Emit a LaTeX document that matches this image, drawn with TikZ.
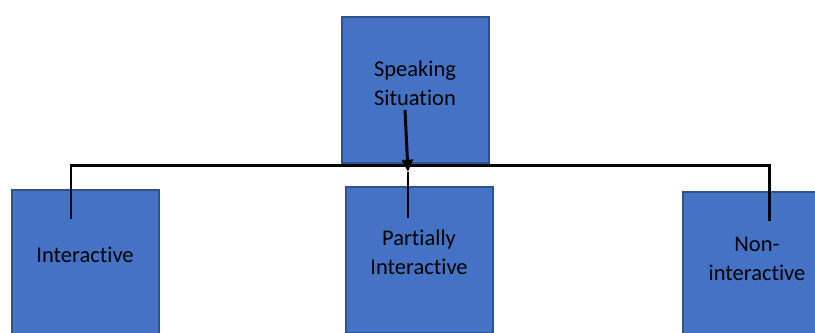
\documentclass[tikz,border=0pt]{standalone}
\usepackage{fontspec}
\setmainfont{Carlito}[RawFeature={-liga;-clig}]
\usetikzlibrary{arrows.meta}
\definecolor{boxblue}{HTML}{4472C4}
\definecolor{boxedge}{HTML}{2F528F}
\tikzset{link/.style={line width=1.7pt}}

\begin{document}
\begin{tikzpicture}[x=0.02cm,y=-0.02cm,
  box/.style={draw=boxedge,line width=0.6pt,fill=boxblue,minimum width=2.94cm,minimum height=2.92cm,inner sep=0pt},
  lbl/.style={align=center,inner sep=0pt,font=\fontsize{12.8}{16.4}\selectfont}]
\clip (0,0) rectangle (815,333);
\node[box] (sit) at (415.5,90) {};
\node[box] (inter) at (85.5,263) {};
\node[box] (part) at (419.5,260) {};
\node[box] (non) at (756.5,265) {};
\node[lbl] (sitt) at (415,83) {Speaking\\Situation};
\node[lbl] (intert) at (85,255) {Interactive};
\node[lbl] (partt) at (419,252) {Partially\\Interactive};
\node[lbl] (nont) at (757,259) {Non-\\interactive};
% joins
\coordinate (sitout) at (405,110);
\coordinate (tip) at (408,172);
\coordinate (partin) at (408,218);
\coordinate (interin) at (71,219);
\coordinate (barr) at (769,166);
\coordinate (nonin) at (769,221);
\draw[link] (interin) |- (barr) -- (nonin);
\draw[link,-{Triangle[length=7pt,width=6pt]}] (sitout) -- (tip);
\draw[link] (tip) -- (partin);
\end{tikzpicture}
\end{document}
